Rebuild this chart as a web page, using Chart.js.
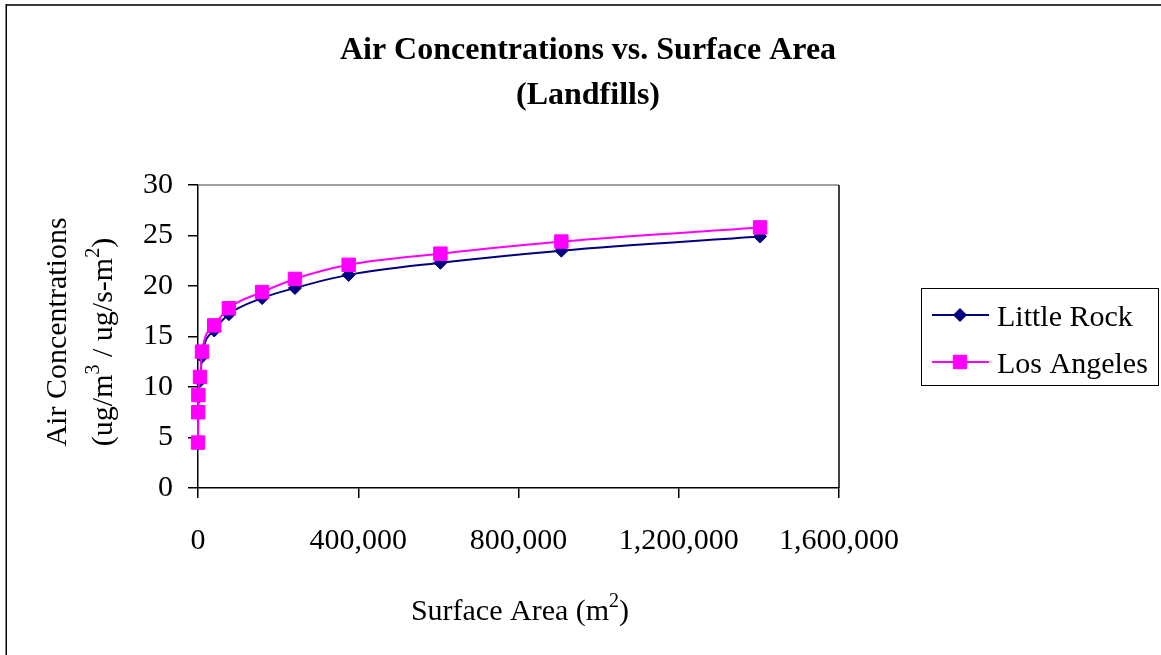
<!DOCTYPE html>
<html>
<head>
<meta charset="utf-8">
<title>Air Concentrations vs. Surface Area (Landfills)</title>
<script src="https://cdn.jsdelivr.net/npm/chart.js@4.4.1/dist/chart.umd.min.js"></script>
<style>
  html, body { margin: 0; padding: 0; background: #fff; }
  #wrap { width: 1161px; height: 655px; }
</style>
</head>
<body>
<div id="wrap"><canvas id="landfillChart" width="1161" height="655"></canvas></div>
<script>
// landfill surface area (m2) against modelled air concentration
const surfaceArea = [100, 400, 900, 5000, 10000, 40500, 77000, 160000, 242000, 376000, 605000, 907000, 1403000];
const littleRock = [4.4, 7.4, 9.0, 10.6, 13.0, 15.6, 17.2, 18.8, 19.8, 21.1, 22.3, 23.5, 24.9];
const losAngeles = [4.5, 7.5, 9.2, 11.0, 13.5, 16.1, 17.8, 19.4, 20.7, 22.1, 23.2, 24.4, 25.8];
const xTicks = [0, 400000, 800000, 1200000, 1600000];
const yTicks = [0, 5, 10, 15, 20, 25, 30];

const SERIF = '"Liberation Serif", "Times New Roman", serif';

const toPoints = ys => surfaceArea.map((x, i) => ({ x: x, y: ys[i] }));

// draws a label made of normal and superscript pieces, centred on x
function drawRich(ctx, parts, x, y, size) {
    const supSize = Math.round(size * 0.66);
    const widths = parts.map(p => {
        ctx.font = `${p.sup ? supSize : size}px ${SERIF}`;
        return ctx.measureText(p.t).width;
    });
    let cx = x - widths.reduce((a, b) => a + b, 0) / 2;
    parts.forEach((p, i) => {
        ctx.font = `${p.sup ? supSize : size}px ${SERIF}`;
        ctx.fillText(p.t, cx, p.sup ? y - size * 0.45 : y);
        cx += widths[i];
    });
}

// frame, titles, plot box and legend
const decorations = {
    id: 'decorations',
    beforeDraw(chart) {
        const ctx = chart.ctx;
        ctx.save();
        ctx.fillStyle = '#fff';
        ctx.fillRect(0, 0, chart.width, chart.height);
        ctx.fillStyle = '#3a3a3a';
        ctx.fillRect(6, 4, chart.width - 6, 2);
        ctx.fillStyle = '#000';
        ctx.fillRect(5.5, 4, 1.5, chart.height - 4);
        ctx.restore();
    },
    afterDraw(chart) {
        const ctx = chart.ctx;
        const area = chart.chartArea;
        ctx.save();

        // plot area top and right edges
        ctx.lineWidth = 1.5;
        ctx.strokeStyle = '#808080';
        ctx.beginPath();
        ctx.moveTo(area.left, area.top);
        ctx.lineTo(area.right, area.top);
        ctx.stroke();
        ctx.strokeStyle = '#000';
        ctx.beginPath();
        ctx.moveTo(area.right, area.top);
        ctx.lineTo(area.right, area.bottom);
        ctx.stroke();

        ctx.fillStyle = '#000';
        ctx.textBaseline = 'alphabetic';

        // chart title
        ctx.textAlign = 'center';
        ctx.font = `bold 32px ${SERIF}`;
        ctx.fillText('Air Concentrations vs. Surface Area', 588, 59);
        ctx.fillText('(Landfills)', 588, 104);

        // axis titles
        ctx.textAlign = 'left';
        drawRich(ctx, [{ t: 'Surface Area (m' }, { t: '2', sup: true }, { t: ')' }], 520, 620, 30);

        ctx.save();
        ctx.translate(66, 332);
        ctx.rotate(-Math.PI / 2);
        drawRich(ctx, [{ t: 'Air Concentrations' }], 0, 0, 30);
        ctx.restore();

        ctx.save();
        ctx.translate(112, 342);
        ctx.rotate(-Math.PI / 2);
        drawRich(ctx, [
            { t: '(ug/m' }, { t: '3', sup: true }, { t: ' / ug/s-m' }, { t: '2', sup: true }, { t: ')' }
        ], 0, 0, 30);
        ctx.restore();

        // legend box
        ctx.lineWidth = 1;
        ctx.strokeStyle = '#000';
        ctx.strokeRect(921.5, 288.5, 237, 97);
        const rows = [315, 362];
        chart.data.datasets.forEach((ds, i) => {
            const y = rows[i];
            ctx.strokeStyle = ds.borderColor;
            ctx.lineWidth = ds.borderWidth;
            ctx.beginPath();
            ctx.moveTo(932, y);
            ctx.lineTo(989, y);
            ctx.stroke();
            ctx.fillStyle = ds.pointBackgroundColor;
            ctx.strokeStyle = ds.pointBorderColor;
            ctx.lineWidth = ds.pointBorderWidth;
            Chart.helpers.drawPoint(ctx, {
                pointStyle: ds.pointStyle,
                radius: ds.pointRadius,
                rotation: 0,
                borderWidth: ds.pointBorderWidth
            }, 960, y);
            ctx.fillStyle = '#000';
            ctx.font = `30px ${SERIF}`;
            ctx.textAlign = 'left';
            ctx.fillText(ds.label, 997, y + 11);
        });

        ctx.restore();
    }
};

const tickFont = { family: SERIF, size: 30 };

new Chart(document.getElementById('landfillChart'), {
    type: 'line',
    data: {
        datasets: [
            {
                label: 'Little Rock',
                data: toPoints(littleRock),
                borderColor: '#000080',
                borderWidth: 2,
                pointStyle: 'rectRot',
                pointRadius: 6.5,
                pointBackgroundColor: '#000080',
                pointBorderColor: '#000080',
                pointBorderWidth: 1,
                cubicInterpolationMode: 'monotone',
                fill: false,
                clip: false,
                order: 1
            },
            {
                label: 'Los Angeles',
                data: toPoints(losAngeles),
                borderColor: '#FF00FF',
                borderWidth: 2,
                pointStyle: 'rect',
                pointRadius: 9.5,
                pointBackgroundColor: '#FF00FF',
                pointBorderColor: '#FF00FF',
                pointBorderWidth: 1,
                cubicInterpolationMode: 'monotone',
                fill: false,
                clip: false,
                order: 0
            }
        ]
    },
    options: {
        responsive: false,
        animation: false,
        events: [],
        layout: { padding: { left: 0, right: 322, top: 185, bottom: 67 } },
        plugins: {
            legend: { display: false },
            title: { display: false },
            tooltip: { enabled: false }
        },
        scales: {
            x: {
                type: 'linear',
                min: xTicks[0],
                max: xTicks[xTicks.length - 1],
                afterFit: s => { s.height = 100; },
                afterBuildTicks: s => { s.ticks = xTicks.map(v => ({ value: v })); },
                ticks: {
                    color: '#000',
                    font: tickFont,
                    padding: 25,
                    maxRotation: 0,
                    autoSkip: false,
                    callback: v => v.toLocaleString('en-US')
                },
                grid: { drawOnChartArea: false, tickLength: 10, color: '#000', lineWidth: 1.5 },
                border: { color: '#000', width: 1.5 }
            },
            y: {
                type: 'linear',
                min: yTicks[0],
                max: yTicks[yTicks.length - 1],
                afterFit: s => { s.width = 198; },
                afterBuildTicks: s => { s.ticks = yTicks.map(v => ({ value: v })); },
                ticks: {
                    color: '#000',
                    font: tickFont,
                    padding: 15,
                    autoSkip: false
                },
                grid: { drawOnChartArea: false, tickLength: 10, color: '#000', lineWidth: 1.5 },
                border: { color: '#000', width: 1.5 }
            }
        }
    },
    plugins: [decorations]
});
</script>
</body>
</html>
